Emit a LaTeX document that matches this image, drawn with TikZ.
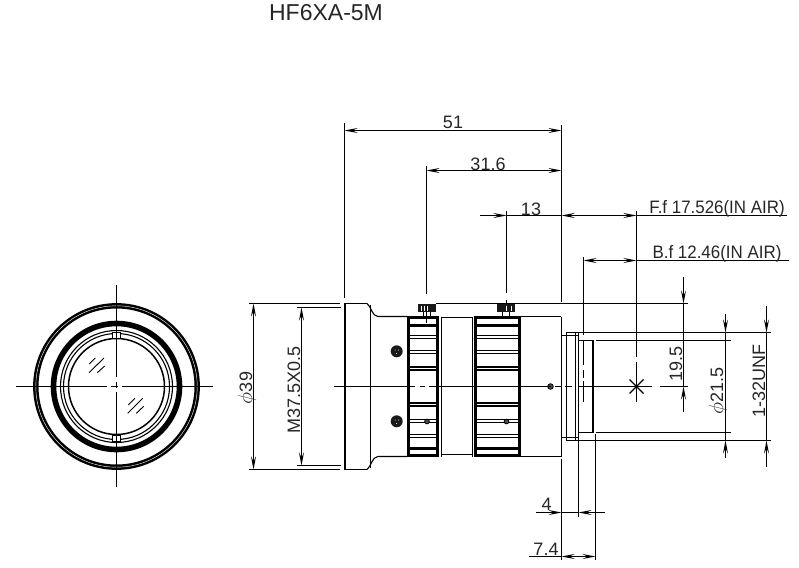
\documentclass[tikz,border=0pt]{standalone}
\usepackage{fontspec}
\setmainfont{Liberation Sans}
\usetikzlibrary{arrows.meta}
\tikzset{
  outline/.style={line width=1.1pt},
  heavy/.style={line width=3pt},
  rib/.style={line width=1.1pt,fill=white},
  dimline/.style={line width=1.1pt,>={Stealth[length=13pt,width=5pt,inset=5pt]}},
  dimtext/.style={inner sep=0pt,font=\fontsize{18}{18}\selectfont,text=black!85},
  screw/.style={fill=black!90},
  pin/.style={fill=black!70,draw=black,line width=0.8pt}
}
\begin{document}
\begin{tikzpicture}[x=1pt,y=-1pt]
\useasboundingbox (0,0) rectangle (799,567);
\node[inner sep=0pt,font=\fontsize{23}{23}\selectfont,text=black!85] (title) at (326,13) {HF6XA-5M};
% front view
\draw[line width=5.4pt] (116.5,386.5) circle (80.7pt);
\draw[white,line width=0.4pt] (116.5,386.5) circle (80.7pt);
\draw[line width=5.6pt] (116.5,386.5) circle (63pt);
\draw[outline] (116.5,386.5) circle (56pt);
\draw[outline] (116.5,386.5) circle (53pt);
\draw[line width=1.5pt] (116.5,386.5) circle (48pt);
\draw[outline,fill=white] (112.5,332.5) rectangle (120.5,338.5);
\draw[outline,fill=white] (112.5,435.5) rectangle (120.5,441.5);
\draw[line width=0.9pt] (89.3,364) -- (95.3,358);
\draw[line width=0.9pt] (89,372.7) -- (104,358);
\draw[line width=0.9pt] (97.3,372.7) -- (104.7,366);
\draw[line width=0.9pt] (128.3,405) -- (135,398.3);
\draw[line width=0.9pt] (127.7,413.3) -- (142.7,398.3);
\draw[line width=0.9pt] (136.3,413.3) -- (143.7,406.3);
\draw[outline] (16,386.5) -- (107.3,386.5);
\draw[outline] (110.7,386.5) -- (118.3,386.5);
\draw[outline] (121.7,386.5) -- (213,386.5);
\draw[outline] (116.5,285) -- (116.5,376.7);
\draw[outline] (116.5,381.7) -- (116.5,388.3);
\draw[outline] (116.5,391.7) -- (116.5,487);
% side view, body
\draw[outline] (367,303.5) -- (344.5,303.5) -- (344.5,469.5) -- (367,469.5);
\draw[line width=2pt] (345,303.5) -- (345,469.5);
\draw[outline] (370.5,305) -- (370.5,467.5);
\draw[outline] (367,303.5) .. controls (371,306) and (372,316.5) .. (378,316.5) -- (407,316.5);
\draw[outline] (367,469.5) .. controls (371,467) and (372,456.5) .. (378,456.5) -- (407,456.5);
\draw[outline] (441,317.5) -- (472,317.5);
\draw[outline] (441,454.5) -- (472,454.5);
\draw[outline] (441.5,316.5) -- (441.5,456.5);
\draw[outline] (472.5,316.5) -- (472.5,456.5);
\draw[outline] (520,316.5) -- (561,316.5);
\draw[outline] (520,456.5) -- (561,456.5);
\draw[line width=1.5pt] (561.5,316.5) -- (561.5,456.5);
\draw[outline] (561,335.5) -- (566,335.5);
\draw[outline] (561,437.5) -- (566,437.5);
\draw[outline] (566.5,332.5) rectangle (578.5,440.5);
\draw[outline] (575.5,332.5) -- (575.5,440.5);
\draw[outline] (566.5,335.5) -- (578.5,335.5);
\draw[outline] (566.5,437.5) -- (578.5,437.5);
\draw[outline] (578.5,340.5) -- (593.5,340.5);
\draw[outline] (578.5,432.5) -- (593.5,432.5);
\draw[line width=2pt] (593,340.5) -- (593,432.5);
% focus ring
\draw[rib] (408,335.5) rectangle (437,338.5);
\draw[rib] (408,350.5) rectangle (437,353.5);
\draw[rib,line width=2pt] (408,367) rectangle (437,370);
\draw[rib,line width=2pt] (408,403) rectangle (437,406);
\draw[rib] (408,419.5) rectangle (437,422.5);
\draw[rib] (408,434.5) rectangle (437,437.5);
\draw[heavy] (408,316) -- (408,457);
\draw[heavy] (437,316) -- (437,457);
\draw[heavy] (406.5,317.5) -- (438.5,317.5);
\draw[heavy] (406.5,325.5) -- (438.5,325.5);
\draw[heavy] (406.5,448.5) -- (438.5,448.5);
\draw[heavy] (406.5,455.5) -- (438.5,455.5);
% iris ring
\draw[rib] (475,335.5) rectangle (519,338.5);
\draw[rib] (475,350.5) rectangle (519,353.5);
\draw[rib,line width=2pt] (475,367) rectangle (519,370);
\draw[rib,line width=2pt] (475,403) rectangle (519,406);
\draw[rib] (475,419.5) rectangle (519,422.5);
\draw[rib] (475,434.5) rectangle (519,437.5);
\draw[heavy] (475.5,316) -- (475.5,457);
\draw[heavy] (519.5,316) -- (519.5,457);
\draw[heavy] (474,317.5) -- (521,317.5);
\draw[heavy] (474,325.5) -- (521,325.5);
\draw[heavy] (474,448.5) -- (521,448.5);
\draw[heavy] (474,455.5) -- (521,455.5);
% knobs and screws
\draw[outline] (423.5,311) -- (423.5,316);
\draw[outline] (430.5,311) -- (430.5,316);
\draw[outline] (502.5,311) -- (502.5,316);
\draw[outline] (509.5,311) -- (509.5,316);
\fill[black!90] (418,304) rectangle (436,312);
\fill[black!90] (497,304) rectangle (515,312);
\draw[white,line width=0.8pt] (421,305.5) -- (421,310.5);
\draw[white,line width=0.8pt] (424,305.5) -- (424,310.5);
\draw[white,line width=0.8pt] (427,305.5) -- (427,310.5);
\draw[white,line width=0.8pt] (506,305.5) -- (506,310.5);
\draw[white,line width=0.8pt] (511.5,305.5) -- (511.5,310.5);
\fill[screw] (396.7,351.3) circle (6pt);
\fill[screw] (396.7,421.3) circle (6pt);
\fill[white] (395,350) circle (0.5pt);
\fill[white] (398.5,350) circle (0.5pt);
\fill[white] (396.7,353.5) circle (0.5pt);
\fill[white] (395,420) circle (0.5pt);
\fill[white] (398.5,420) circle (0.5pt);
\fill[white] (396.7,423.5) circle (0.5pt);
\draw[pin] (427,421.5) circle (2.4pt);
\draw[pin] (506.5,421.5) circle (2.4pt);
\draw[pin] (550.5,386.5) circle (2.8pt);
% center lines
\draw[outline] (334,386.5) -- (415,386.5);
\draw[outline] (420,386.5) -- (425,386.5);
\draw[outline] (429,386.5) -- (551,386.5);
\draw[outline] (555,386.5) -- (561,386.5);
\draw[outline] (565,386.5) -- (572,386.5);
\draw[outline] (578,386.5) -- (651.7,386.5);
\draw[outline] (660,386.5) -- (688,386.5);
\draw[outline] (629.5,379.5) -- (643.5,393.5);
\draw[outline] (629.5,393.5) -- (643.5,379.5);
% extension lines
\draw[outline] (249,303.5) -- (340,303.5);
\draw[outline] (249,469.5) -- (340,469.5);
\draw[outline] (297,307.5) -- (341,307.5);
\draw[outline] (297,465.5) -- (341,465.5);
\draw[outline] (344.5,123) -- (344.5,298);
\draw[outline] (561.5,125) -- (561.5,301.7);
\draw[outline] (561.5,459) -- (561.5,560);
\draw[outline] (426.5,166) -- (426.5,294);
\draw[outline] (426.5,305) -- (426.5,322.7);
\draw[outline] (506.5,211) -- (506.5,293);
\draw[outline] (506.5,300) -- (506.5,303);
\draw[outline] (636.5,211) -- (636.5,357);
\draw[outline] (636.5,362) -- (636.5,402);
\draw[outline] (583.5,257) -- (583.5,335);
\draw[outline] (583.5,340) -- (583.5,365);
\draw[outline] (583.5,370) -- (583.5,378);
\draw[outline] (583.5,381) -- (583.5,402);
\draw[outline] (436,303.5) -- (688,303.5);
\draw[outline] (578,332.5) -- (771,332.5);
\draw[outline] (596,340.5) -- (731,340.5);
\draw[outline] (596,432.5) -- (731,432.5);
\draw[outline] (578,440.5) -- (771,440.5);
\draw[outline] (578.5,440.5) -- (578.5,517);
\draw[outline] (595.5,434) -- (595.5,560);
% dimensions
\draw[dimline,<->] (344.5,130.5) -- (561.5,130.5);
\draw[dimline,<->] (426.5,170.5) -- (561.5,170.5);
\draw[dimline,->] (480,215.5) -- (506.5,215.5);
\draw[dimline] (506.5,215.5) -- (561.5,215.5);
\draw[dimline,<->] (561.5,215.5) -- (636.5,215.5);
\draw[dimline] (636.5,215.5) -- (787,215.5);
\draw[dimline,<->] (583.5,260.5) -- (636.5,260.5);
\draw[dimline] (636.5,260.5) -- (789,260.5);
\draw[dimline,->] (683.5,277) -- (683.5,303.5);
\draw[dimline] (683.5,303.5) -- (683.5,386.5);
\draw[dimline,->] (683.5,412) -- (683.5,386.5);
\draw[dimline,->] (725.5,314) -- (725.5,332.5);
\draw[dimline] (725.5,332.5) -- (725.5,440.5);
\draw[dimline,->] (725.5,458) -- (725.5,440.5);
\draw[dimline,->] (766.5,306) -- (766.5,332.5);
\draw[dimline] (766.5,332.5) -- (766.5,440.5);
\draw[dimline,->] (766.5,467) -- (766.5,440.5);
\draw[dimline,<->] (253.5,303.5) -- (253.5,469.5);
\draw[dimline,<->] (301.5,307.5) -- (301.5,465.5);
\draw[dimline,->] (536,512.5) -- (561.5,512.5);
\draw[dimline] (561.5,512.5) -- (578.5,512.5);
\draw[dimline,->] (605,512.5) -- (578.5,512.5);
\draw[dimline] (529,556.5) -- (561.5,556.5);
\draw[dimline,<->] (561.5,556.5) -- (595.5,556.5);
\node[dimtext] (len51) at (453,122.5) {51};
\node[dimtext] (len316) at (488,164) {31.6};
\node[dimtext] (len13) at (531,209) {13};
\node[dimtext,xscale=0.94] (focal) at (717,209) {F.f 17.526(IN AIR)};
\node[dimtext,xscale=0.94] (back) at (717,253.5) {B.f 12.46(IN AIR)};
\node[dimtext,rotate=90] (height195) at (676,364) {19.5};
\node[dimtext,rotate=90] (dia215) at (718,391) {\fontsize{21}{21}\selectfont$\phi$\fontsize{18}{18}\selectfont21.5};
\node[dimtext,rotate=90] (thread) at (759,381) {1-32UNF};
\node[dimtext,rotate=90] (dia39) at (247,388) {\fontsize{21}{21}\selectfont$\phi$\fontsize{18}{18}\selectfont39};
\node[dimtext,rotate=90] (mount) at (294,390) {M37.5X0.5};
\node[dimtext] (len4) at (546.5,504.5) {4};
\node[dimtext] (len74) at (546,549) {7.4};
\end{tikzpicture}
\end{document}
